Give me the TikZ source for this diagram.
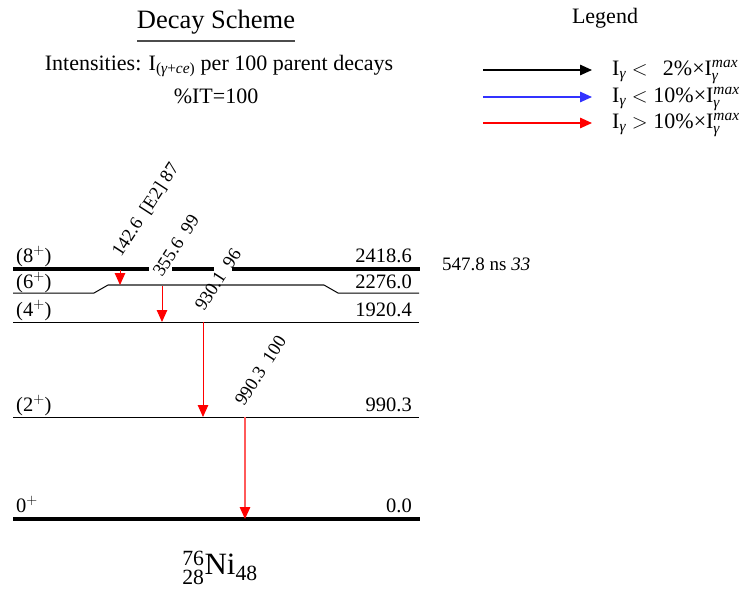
\documentclass[tikz,border=0pt]{standalone}
\usepackage{amsmath}
\usepackage{fontspec}
\setmainfont{Liberation Serif}
\usetikzlibrary{arrows.meta}
\definecolor{salmon}{RGB}{255,90,90}
\definecolor{lgblue}{RGB}{50,50,255}
\newcommand{\gm}{\text{\itshape γ}}
\newcommand{\Imax}{\text{I}^{\text{\itshape max}}_{\gm}}
\begin{document}
\begin{tikzpicture}[x=1pt,y=-1pt,
  txt/.style={inner sep=0pt,font=\fontsize{20.5}{24}\selectfont},
  hdr/.style={inner sep=0pt,font=\fontsize{22}{26}\selectfont},
  lvlabel/.style={txt,anchor=base east},
  jlabel/.style={inner sep=0pt,font=\fontsize{19}{22}\selectfont,anchor=base west},
  glabel/.style={inner sep=0pt,anchor=base west,rotate=57,font=\fontsize{18.5}{21}\selectfont},
  thicklev/.style={line width=3.5pt},
  thinlev/.style={line width=1pt},
  gam/.style={line width=1pt,-{Triangle[length=12pt,width=10.5pt]}},
  lgam/.style={line width=1.4pt,-{Triangle[length=12pt,width=10.5pt]}},
  ]
\path[use as bounding box] (0,0) rectangle (751,590);

% titles
\node[inner sep=0pt,font=\fontsize{26.5}{30}\selectfont] (title) at (216,22) {Decay Scheme};
\draw[line width=1.3pt,black!70] (137,41) -- (295,41);
\node[hdr] (inten) at (219,66) {Intensities: I$_{\text{(}\gm\text{+}\text{\itshape ce}\text{)}}$ per 100 parent decays};
\node[hdr] (it) at (216,96) {\%IT=100};

% legend
\node[hdr] (legend) at (605,18) {Legend};
\coordinate (la1) at (483,70); \coordinate (lb1) at (592,70);
\coordinate (la2) at (483,97); \coordinate (lb2) at (592,97);
\coordinate (la3) at (483,123); \coordinate (lb3) at (592,123);
\draw[lgam,black] (la1) -- (lb1);
\draw[lgam,lgblue] (la2) -- (lb2);
\draw[lgam,red] (la3) -- (lb3);
\node[hdr,anchor=west] (lt1) at (612,72) {I$_{\gm}<\phantom{1}$2\%×$\Imax$};
\node[hdr,anchor=west] (lt2) at (612,99) {I$_{\gm}<{}$10\%×$\Imax$};
\node[hdr,anchor=west] (lt3) at (612,125) {I$_{\gm}>{}$10\%×$\Imax$};

% levels
\coordinate (l8a) at (13,269); \coordinate (l8b) at (420,269);
\draw[thicklev] (l8a) -- (149,269);
\draw[thicklev] (172,269) -- (214,269);
\draw[thicklev] (232,269) -- (l8b);
\coordinate (l6a) at (13,293); \coordinate (l6b) at (419,293);
\draw[thinlev] (l6a) -- (94,293) -- (108,285);
\draw[line width=1.4pt,black!60] (108,285) -- (324,285);
\draw[thinlev] (324,285) -- (338,293) -- (l6b);
\coordinate (l4a) at (13,322); \coordinate (l4b) at (419,322);
\draw[thinlev] (l4a) -- (l4b);
\coordinate (l2a) at (13,417); \coordinate (l2b) at (419,417);
\draw[thinlev] (l2a) -- (l2b);
\coordinate (l0a) at (13,519); \coordinate (l0b) at (420,519);
\draw[thicklev] (l0a) -- (l0b);

% level labels
\node[txt,anchor=base west] (s8) at (16,262) {(8$^{+}$)};
\node[lvlabel] (e8) at (412,262) {2418.6};
\node[txt,anchor=base west] (s6) at (16,288) {(6$^{+}$)};
\node[lvlabel] (e6) at (412,288) {2276.0};
\node[txt,anchor=base west] (s4) at (16,316) {(4$^{+}$)};
\node[lvlabel] (e4) at (412,316) {1920.4};
\node[txt,anchor=base west] (s2) at (16,411) {(2$^{+}$)};
\node[lvlabel] (e2) at (412,411) {990.3};
\node[txt,anchor=base west] (s0) at (16,512) {0$^{+}$};
\node[lvlabel] (e0) at (412,512) {0.0};
\node[jlabel] (hl) at (442,270) {547.8 ns \textit{33}};

% gammas
\coordinate (g1a) at (120,270); \coordinate (g1b) at (120,285);
\draw[gam,red] (g1a) -- (g1b);
\node[glabel] (g1l) at (121,258) {142.6\ \ [E2]\ 87};
\coordinate (g2a) at (162,286); \coordinate (g2b) at (162,322);
\draw[gam,red] (g2a) -- (g2b);
\node[glabel] (g2l) at (162,278) {355.6\ \ 99};
\coordinate (g3a) at (203,322); \coordinate (g3b) at (203,417);
\draw[gam,red] (g3a) -- (g3b);
\node[glabel] (g3l) at (204,312) {930.1\ \ 96};
\coordinate (g4a) at (245,417); \coordinate (g4b) at (245,519);
\draw[gam,salmon,line width=1.3pt,-{Triangle[length=12pt,width=10.5pt,fill=red,color=red]}] (g4a) -- (g4b);
\node[glabel] (g4l) at (244,407) {990.3\ \ 100};

% nucleus
\node[inner sep=0pt,font=\fontsize{31}{36}\selectfont] (nuc) at (220,568) {${}^{\text{76}}_{\text{28}}\text{Ni}_{\text{48}}$};
\end{tikzpicture}
\end{document}
